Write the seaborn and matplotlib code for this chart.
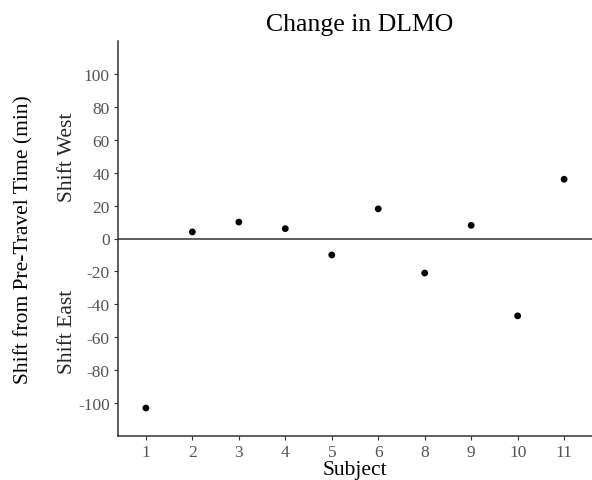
import matplotlib
matplotlib.use("Agg")
import matplotlib.pyplot as plt
import seaborn as sns
import pandas as pd

subjects = ["1", "2", "3", "4", "5", "6", "8", "9", "10", "11"]
shift = [-103, 4, 10, 6, -10, 18, -21, 8, -47, 36]
yticks = [-100, -80, -60, -40, -20, 0, 20, 40, 60, 80, 100]

df = pd.DataFrame({"Subject": subjects, "Shift": shift})

sns.set_theme(style="ticks")
plt.rcParams["font.family"] = ["Liberation Serif", "DejaVu Serif"]

fig = plt.figure(figsize=(5.92, 4.81), dpi=100)
ax = fig.add_axes([118/592, 1-437/481, (592-118)/592, (437-42)/481])

ax.axhline(0, color="#333333", lw=1.1, zorder=1)
sns.scatterplot(data=df, x="Subject", y="Shift", ax=ax, color="black",
                s=24, edgecolor="none", zorder=3)

ax.set_xlim(-0.6, 9.6)
ax.set_ylim(-120, 120)
ax.set_yticks(yticks)
ax.set_yticklabels([str(v) for v in yticks])
for sp in ["top", "right"]:
    ax.spines[sp].set_visible(False)
for sp in ["left", "bottom"]:
    ax.spines[sp].set_color("#333333")
    ax.spines[sp].set_linewidth(1.1)
ax.tick_params(axis="both", colors="#333333", labelcolor="#555555",
               labelsize=12.5, length=3, width=0.8, pad=3)

ax.set_xlabel("Subject", fontsize=15.5, color="black", labelpad=0)
ax.set_ylabel("Shift from Pre-Travel Time (min)", fontsize=15.5, color="black")
ax.yaxis.set_label_coords(-85/474, 0.5)
ax.set_title("Change in DLMO", fontsize=18.5, color="black", pad=8, x=0.51)

trans = ax.get_yaxis_transform()
ax.text(-50/474, 50, "Shift West", rotation=90, ha="center", va="center",
        fontsize=15.5, transform=trans, clip_on=False)
ax.text(-50/474, -56, "Shift East", rotation=90, ha="center", va="center",
        fontsize=15.5, transform=trans, clip_on=False)

fig.savefig("out.png", dpi=100)
